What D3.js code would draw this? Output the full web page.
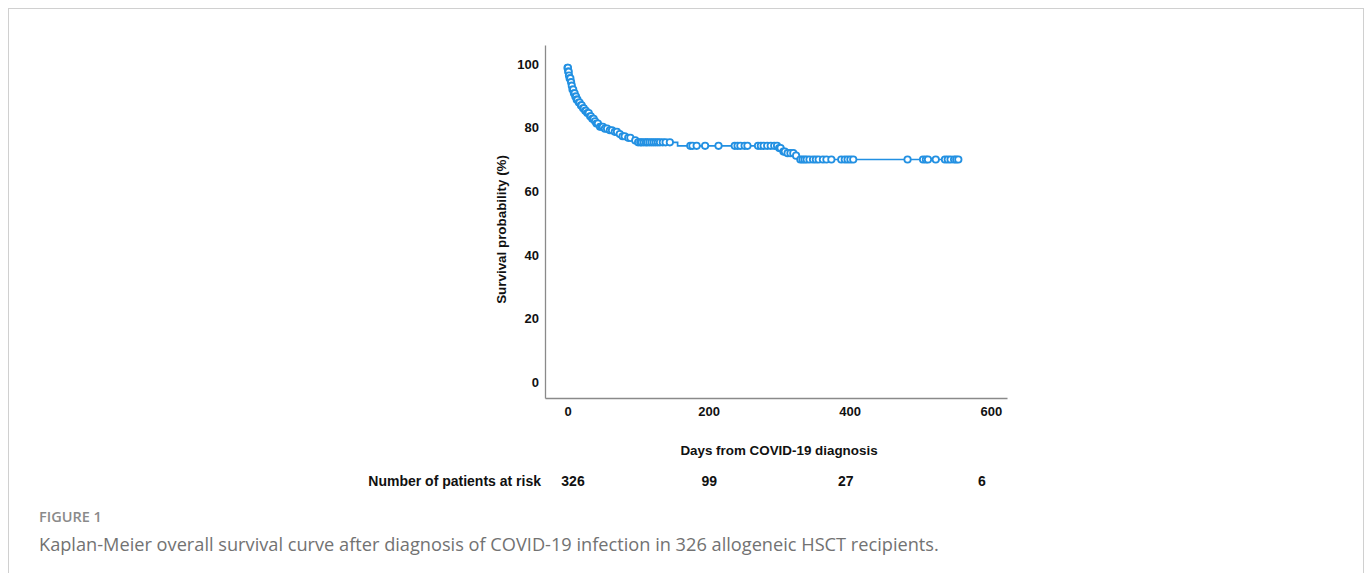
<!DOCTYPE html>
<html>
<head>
<meta charset="utf-8">
<script src="https://cdn.jsdelivr.net/npm/d3@7"></script>
<style>
  body { margin: 0; background: #fff; }
  svg { display: block; }
</style>
</head>
<body>
<svg id="chart"></svg>
<script>
// Kaplan-Meier steps: day of drop and survival (%) after the drop
const stepDays = [0, 1, 2, 3, 5, 6, 7, 9, 11, 13, 15, 18, 21, 24, 27, 31, 35, 38, 41, 46, 51, 58, 65, 71, 77, 84, 91, 98, 156, 298, 304, 310, 322, 326, 329];
const stepSurv = [98.8, 97.6, 96.4, 95.5, 94.3, 93.2, 92.0, 90.8, 89.8, 88.8, 87.9, 87.0, 86.1, 85.3, 84.6, 83.6, 82.8, 82.0, 81.3, 80.3, 79.7, 79.2, 78.7, 78.0, 77.3, 76.8, 76.0, 75.4, 74.3, 73.6, 72.5, 72.0, 71.2, 70.4, 70.0];

// censored observations (days)
const censorDays = [0, 0.5, 1, 1.5, 2, 3, 4, 5, 6, 7, 8, 9, 10, 11, 12, 13, 14, 16, 17, 19, 20, 22, 23, 25, 26, 28, 30, 32, 33, 35, 37, 39, 41, 43, 46, 48, 50, 53, 56, 60, 63, 67, 70, 74, 78, 81, 86, 89, 96, 100, 103, 105, 108, 111, 113, 116, 119, 122, 125, 128, 131, 135, 139, 145, 174, 177, 183, 195, 214, 237, 241, 245, 251, 255, 270, 274, 278, 283, 288, 293, 297, 300, 302, 306, 308, 312, 316, 320, 324, 330, 333, 336, 339, 343, 348, 352, 356, 362, 367, 374, 388, 393, 397, 401, 405, 482, 504, 508, 511, 522, 535, 539, 543, 548, 551, 554];

const xTicks = [0, 200, 400, 600];
const yTicks = [0, 20, 40, 60, 80, 100];
const riskDays = [0, 200, 400, 600];
const riskCounts = [326, 99, 27, 6];

const W = 1372, H = 573;
const blue = "#2290e2";
const chartFont = "'Liberation Sans', Arial, sans-serif";

const svg = d3.select("#chart").attr("width", W).attr("height", H);

// outer figure frame
svg.append("rect")
    .attr("x", 8.5).attr("y", 8.5)
    .attr("width", 1355).attr("height", 600)
    .attr("fill", "none").attr("stroke", "#d0d0d0");

const x = d3.scaleLinear().domain([-32, 623]).range([545, 1007]);
const y = d3.scaleLinear().domain([-5, 106]).range([398, 45]);
// the at-risk row is set a little narrower than the axis
const xRisk = d3.scaleLinear().domain([0, 600]).range([573, 982]);

// axes
const xAxis = svg.append("g")
    .attr("transform", `translate(0,${y(-5)})`)
    .call(d3.axisBottom(x).tickValues(xTicks).tickSize(0).tickPadding(9).tickFormat(d3.format("d")));
const yAxis = svg.append("g")
    .attr("transform", `translate(${x(-32)},0)`)
    .call(d3.axisLeft(y).tickValues(yTicks).tickSize(0).tickPadding(6).tickFormat(d3.format("d")));

[xAxis, yAxis].forEach(a => {
    a.select(".domain").attr("stroke", "#8a8a8a").attr("stroke-width", 1.3);
    a.selectAll("text")
        .attr("font-family", chartFont)
        .attr("font-weight", "bold")
        .attr("font-size", 13)
        .attr("fill", "#111");
});

// axis titles
svg.append("text")
    .attr("transform", `translate(506,${y(48)}) rotate(-90)`)
    .attr("text-anchor", "middle")
    .attr("font-family", chartFont).attr("font-weight", "bold").attr("font-size", 13.4)
    .attr("fill", "#111")
    .text("Survival probability (%)");

svg.append("text")
    .attr("x", 779).attr("y", 455)
    .attr("text-anchor", "middle")
    .attr("font-family", chartFont).attr("font-weight", "bold").attr("font-size", 13.4)
    .attr("fill", "#111")
    .text("Days from COVID-19 diagnosis");

// KM curve
const steps = stepDays.map((d, i) => ({ day: d, surv: stepSurv[i] }));
const lastDay = d3.max(censorDays);
const survAt = day => {
    let s = 100;
    steps.forEach(p => { if (p.day <= day) s = p.surv; });
    return s;
};
const linePts = steps.concat([{ day: lastDay, surv: survAt(lastDay) }]);

svg.append("path")
    .datum(linePts)
    .attr("fill", "none")
    .attr("stroke", blue)
    .attr("stroke-width", 1.7)
    .attr("d", d3.line().x(d => x(d.day)).y(d => y(d.surv)).curve(d3.curveStepAfter));

svg.append("g")
    .selectAll("circle")
    .data(censorDays)
    .join("circle")
    .attr("cx", d => x(d))
    .attr("cy", d => y(survAt(d)))
    .attr("r", 3.2)
    .attr("fill", "#fff")
    .attr("stroke", blue)
    .attr("stroke-width", 1.8);

// number at risk
svg.append("text")
    .attr("x", 541).attr("y", 486)
    .attr("text-anchor", "end")
    .attr("font-family", chartFont).attr("font-weight", "bold").attr("font-size", 14)
    .attr("fill", "#111")
    .text("Number of patients at risk");

svg.append("g")
    .selectAll("text")
    .data(riskDays)
    .join("text")
    .attr("x", d => xRisk(d))
    .attr("y", 486)
    .attr("text-anchor", "middle")
    .attr("font-family", chartFont).attr("font-weight", "bold").attr("font-size", 14)
    .attr("fill", "#111")
    .text((d, i) => riskCounts[i]);

// caption
svg.append("text")
    .attr("x", 39).attr("y", 522)
    .attr("font-family", "'Open Sans', sans-serif").attr("font-weight", 600).attr("font-size", 14.5)
    .attr("fill", "#8a8a8a")
    .text("FIGURE 1");

svg.append("text")
    .attr("x", 39).attr("y", 551)
    .attr("font-family", "'Open Sans', sans-serif").attr("font-size", 18.2)
    .attr("fill", "#727272")
    .text("Kaplan-Meier overall survival curve after diagnosis of COVID-19 infection in 326 allogeneic HSCT recipients.");
</script>
</body>
</html>
